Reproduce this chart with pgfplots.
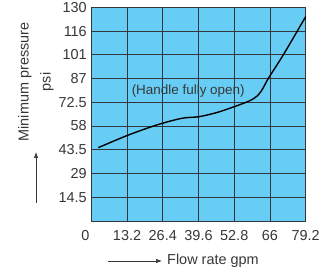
\documentclass[border=0pt]{standalone}
\usepackage{pgfplots}
\pgfplotsset{compat=1.18}
\usetikzlibrary{arrows.meta}
\usepackage{fontspec}
\setmainfont{Liberation Sans}
\definecolor{bgblue}{RGB}{104,205,245}
\definecolor{gridc}{RGB}{50,55,60}
\definecolor{txt}{RGB}{55,55,55}
\begin{document}
\begin{tikzpicture}
\useasboundingbox (-91.3bp,-57bp) rectangle (232.7bp,221bp);
\begin{axis}[
  at={(0,0)}, anchor=south west,
  scale only axis, width=214.4bp, height=213.7bp,
  xmin=0, xmax=79.2, ymin=0, ymax=130.5,
  xtick={0,13.2,26.4,39.6,52.8,66,79.2},
  xticklabels={\makebox[0pt]{0\kern12bp},13.2,26.4,39.6,52.8,66,79.2},
  ytick={0,14.5,29,43.5,58,72.5,87,101.5,116,130.5},
  yticklabels={,14.5,29,43.5,58,72.5,87,101,116,130},
  axis background/.style={fill=bgblue},
  grid=major, major grid style={gridc, line width=0.8pt},
  axis line style={gridc, line width=0.8pt},
  tick style={draw=none},
  ticklabel style={font=\fontsize{14.5}{16}\selectfont, text=txt},
  xticklabel style={yshift=-6bp},
  yticklabel style={xshift=-1bp},
  /pgf/number format/assume math mode=true,
  clip=false,
]
\addplot[black, line width=1.4pt, smooth, tension=0.5] coordinates {
(2.6,44.8) (13.4,52.3) (24.1,58.6) (33.4,62.7) (39.8,63.7) (46.3,66.2) (52.8,69.8) (58.6,73.5) (61.7,77.0) (63.6,81.6) (65.4,87.1) (70.9,101.4) (79.2,124.8)
};
\node[text=txt, font=\fontsize{13.5}{15}\selectfont] at (axis cs:35.8,79.6) {(Handle fully open)};
\end{axis}
\node[rotate=90, text=txt, font=\fontsize{14.5}{16}\selectfont] at (-66.3bp,139bp) {Minimum pressure};
\node[rotate=90, text=txt, font=\fontsize{14.5}{16}\selectfont] at (-44.3bp,139bp) {psi};
\draw[-{Latex[length=6bp,width=4.5bp]}, txt, line width=0.7pt] (-55.3bp,18bp) -- (-55.3bp,69bp);
\draw[-{Latex[length=6bp,width=4.5bp]}, txt, line width=0.7pt] (16.7bp,-40bp) -- (70.7bp,-40bp);
\node[anchor=west, text=txt, font=\fontsize{14.5}{16}\selectfont, inner sep=0pt] at (75.7bp,-40bp) {Flow rate gpm};
\end{tikzpicture}
\end{document}
